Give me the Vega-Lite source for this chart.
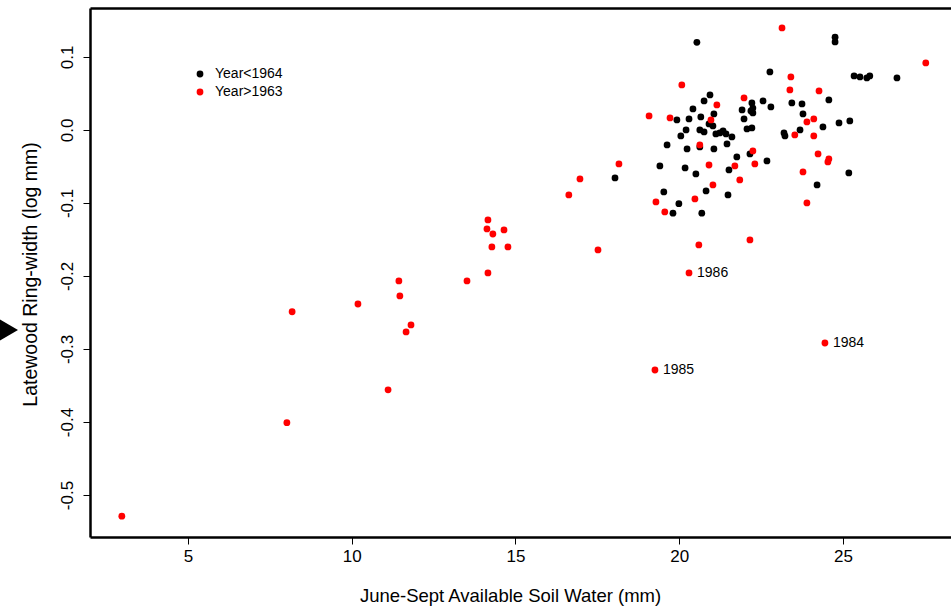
{
  "$schema": "https://vega.github.io/schema/vega-lite/v6.json",
  "width": 861,
  "height": 529,
  "autosize": {"type": "none"},
  "padding": {"left": 90, "top": 8, "right": 0, "bottom": 69},
  "background": "white",
  "config": {
    "view": {"stroke": null},
    "font": "Liberation Sans",
    "locale": {"number": {"decimal": ".", "thousands": ",", "grouping": [3], "currency": ["$", ""], "minus": "-"}}
  },
  "datasets": {
    "pts": [
      {"x": 20.54, "y": 0.120, "g": "Year<1964"},
      {"x": 24.76, "y": 0.127, "g": "Year<1964"},
      {"x": 24.76, "y": 0.1205, "g": "Year<1964"},
      {"x": 22.77, "y": 0.0795, "g": "Year<1964"},
      {"x": 25.34, "y": 0.074, "g": "Year<1964"},
      {"x": 25.52, "y": 0.0726, "g": "Year<1964"},
      {"x": 25.73, "y": 0.0712, "g": "Year<1964"},
      {"x": 25.82, "y": 0.074, "g": "Year<1964"},
      {"x": 26.65, "y": 0.0712, "g": "Year<1964"},
      {"x": 20.94, "y": 0.048, "g": "Year<1964"},
      {"x": 20.76, "y": 0.0397, "g": "Year<1964"},
      {"x": 20.42, "y": 0.0288, "g": "Year<1964"},
      {"x": 21.06, "y": 0.0219, "g": "Year<1964"},
      {"x": 19.93, "y": 0.0137, "g": "Year<1964"},
      {"x": 20.30, "y": 0.0151, "g": "Year<1964"},
      {"x": 20.66, "y": 0.0178, "g": "Year<1964"},
      {"x": 20.91, "y": 0.0082, "g": "Year<1964"},
      {"x": 21.03, "y": 0.0055, "g": "Year<1964"},
      {"x": 20.21, "y": 0.0, "g": "Year<1964"},
      {"x": 20.05, "y": -0.0082, "g": "Year<1964"},
      {"x": 20.63, "y": 0.0, "g": "Year<1964"},
      {"x": 20.76, "y": -0.0027, "g": "Year<1964"},
      {"x": 21.12, "y": -0.0055, "g": "Year<1964"},
      {"x": 21.24, "y": -0.0041, "g": "Year<1964"},
      {"x": 21.34, "y": -0.0014, "g": "Year<1964"},
      {"x": 21.43, "y": -0.0055, "g": "Year<1964"},
      {"x": 21.61, "y": -0.0096, "g": "Year<1964"},
      {"x": 21.46, "y": -0.0192, "g": "Year<1964"},
      {"x": 21.06, "y": -0.026, "g": "Year<1964"},
      {"x": 20.24, "y": -0.026, "g": "Year<1964"},
      {"x": 19.63, "y": -0.0205, "g": "Year<1964"},
      {"x": 20.63, "y": -0.0233, "g": "Year<1964"},
      {"x": 22.22, "y": 0.037, "g": "Year<1964"},
      {"x": 22.25, "y": 0.030, "g": "Year<1964"},
      {"x": 22.25, "y": 0.0233, "g": "Year<1964"},
      {"x": 22.19, "y": 0.026, "g": "Year<1964"},
      {"x": 21.92, "y": 0.0274, "g": "Year<1964"},
      {"x": 21.98, "y": 0.0151, "g": "Year<1964"},
      {"x": 22.56, "y": 0.0397, "g": "Year<1964"},
      {"x": 22.80, "y": 0.0315, "g": "Year<1964"},
      {"x": 22.07, "y": 0.0014, "g": "Year<1964"},
      {"x": 22.22, "y": 0.0027, "g": "Year<1964"},
      {"x": 23.44, "y": 0.037, "g": "Year<1964"},
      {"x": 23.75, "y": 0.0356, "g": "Year<1964"},
      {"x": 23.78, "y": 0.0219, "g": "Year<1964"},
      {"x": 24.57, "y": 0.0411, "g": "Year<1964"},
      {"x": 24.39, "y": 0.0041, "g": "Year<1964"},
      {"x": 24.88, "y": 0.0096, "g": "Year<1964"},
      {"x": 25.21, "y": 0.0123, "g": "Year<1964"},
      {"x": 23.20, "y": -0.0041, "g": "Year<1964"},
      {"x": 23.23, "y": -0.0082, "g": "Year<1964"},
      {"x": 23.69, "y": 0.0, "g": "Year<1964"},
      {"x": 21.76, "y": -0.037, "g": "Year<1964"},
      {"x": 22.16, "y": -0.0329, "g": "Year<1964"},
      {"x": 22.68, "y": -0.0425, "g": "Year<1964"},
      {"x": 21.52, "y": -0.0548, "g": "Year<1964"},
      {"x": 20.51, "y": -0.0603, "g": "Year<1964"},
      {"x": 20.18, "y": -0.052, "g": "Year<1964"},
      {"x": 19.41, "y": -0.0493, "g": "Year<1964"},
      {"x": 18.04, "y": -0.0658, "g": "Year<1964"},
      {"x": 20.82, "y": -0.0836, "g": "Year<1964"},
      {"x": 21.49, "y": -0.089, "g": "Year<1964"},
      {"x": 19.53, "y": -0.0849, "g": "Year<1964"},
      {"x": 24.21, "y": -0.0753, "g": "Year<1964"},
      {"x": 25.18, "y": -0.0589, "g": "Year<1964"},
      {"x": 19.99, "y": -0.101, "g": "Year<1964"},
      {"x": 19.81, "y": -0.114, "g": "Year<1964"},
      {"x": 20.69, "y": -0.114, "g": "Year<1964"},
      {"x": 23.14, "y": 0.1397, "g": "Year>1963"},
      {"x": 27.53, "y": 0.0918, "g": "Year>1963"},
      {"x": 20.08, "y": 0.0616, "g": "Year>1963"},
      {"x": 23.41, "y": 0.0726, "g": "Year>1963"},
      {"x": 23.38, "y": 0.0548, "g": "Year>1963"},
      {"x": 24.27, "y": 0.0534, "g": "Year>1963"},
      {"x": 21.98, "y": 0.0438, "g": "Year>1963"},
      {"x": 21.15, "y": 0.0342, "g": "Year>1963"},
      {"x": 19.08, "y": 0.0192, "g": "Year>1963"},
      {"x": 19.72, "y": 0.0164, "g": "Year>1963"},
      {"x": 20.97, "y": 0.0137, "g": "Year>1963"},
      {"x": 24.11, "y": 0.0151, "g": "Year>1963"},
      {"x": 23.90, "y": 0.011, "g": "Year>1963"},
      {"x": 23.53, "y": -0.0068, "g": "Year>1963"},
      {"x": 24.11, "y": -0.0082, "g": "Year>1963"},
      {"x": 20.63, "y": -0.0205, "g": "Year>1963"},
      {"x": 22.25, "y": -0.0288, "g": "Year>1963"},
      {"x": 24.24, "y": -0.0329, "g": "Year>1963"},
      {"x": 24.57, "y": -0.0397, "g": "Year>1963"},
      {"x": 24.54, "y": -0.0438, "g": "Year>1963"},
      {"x": 20.91, "y": -0.048, "g": "Year>1963"},
      {"x": 21.70, "y": -0.0493, "g": "Year>1963"},
      {"x": 22.31, "y": -0.0466, "g": "Year>1963"},
      {"x": 18.16, "y": -0.0466, "g": "Year>1963"},
      {"x": 16.97, "y": -0.0671, "g": "Year>1963"},
      {"x": 23.78, "y": -0.0575, "g": "Year>1963"},
      {"x": 21.85, "y": -0.0685, "g": "Year>1963"},
      {"x": 21.03, "y": -0.0753, "g": "Year>1963"},
      {"x": 20.48, "y": -0.0945, "g": "Year>1963"},
      {"x": 19.29, "y": -0.0986, "g": "Year>1963"},
      {"x": 19.56, "y": -0.1123, "g": "Year>1963"},
      {"x": 23.90, "y": -0.100, "g": "Year>1963"},
      {"x": 22.16, "y": -0.1507, "g": "Year>1963"},
      {"x": 20.60, "y": -0.1575, "g": "Year>1963"},
      {"x": 17.52, "y": -0.1644, "g": "Year>1963"},
      {"x": 20.30, "y": -0.1959, "g": "Year>1963", "yr": "1986"},
      {"x": 24.45, "y": -0.2918, "g": "Year>1963", "yr": "1984"},
      {"x": 19.26, "y": -0.3288, "g": "Year>1963", "yr": "1985"},
      {"x": 16.63, "y": -0.089, "g": "Year>1963"},
      {"x": 14.16, "y": -0.1233, "g": "Year>1963"},
      {"x": 14.13, "y": -0.1356, "g": "Year>1963"},
      {"x": 14.31, "y": -0.1425, "g": "Year>1963"},
      {"x": 14.65, "y": -0.137, "g": "Year>1963"},
      {"x": 14.28, "y": -0.1603, "g": "Year>1963"},
      {"x": 14.77, "y": -0.1603, "g": "Year>1963"},
      {"x": 14.16, "y": -0.1959, "g": "Year>1963"},
      {"x": 13.52, "y": -0.2068, "g": "Year>1963"},
      {"x": 11.44, "y": -0.2068, "g": "Year>1963"},
      {"x": 11.47, "y": -0.2274, "g": "Year>1963"},
      {"x": 10.19, "y": -0.2384, "g": "Year>1963"},
      {"x": 11.81, "y": -0.267, "g": "Year>1963"},
      {"x": 11.66, "y": -0.2767, "g": "Year>1963"},
      {"x": 11.11, "y": -0.356, "g": "Year>1963"},
      {"x": 8.18, "y": -0.249, "g": "Year>1963"},
      {"x": 8.02, "y": -0.401, "g": "Year>1963"},
      {"x": 2.98, "y": -0.529, "g": "Year>1963"}
    ],
    "marker": [
      {"x": -0.48, "y": -0.274}
    ]
  },
  "layer": [
    {
      "data": {"name": "pts"},
      "mark": {"type": "circle", "size": 46, "opacity": 1},
      "encoding": {
        "x": {
          "field": "x", "type": "quantitative",
          "scale": {"domain": [2.008, 28.3], "nice": false, "zero": false},
          "axis": {
            "orient": "bottom", "values": [5, 10, 15, 20, 25], "grid": false,
            "domainColor": "black", "domainWidth": 2.5,
            "tickColor": "black", "tickWidth": 1, "tickSize": 7,
            "labelFontSize": 17, "labelColor": "black", "labelPadding": 4, "labelFont": "Liberation Sans",
            "title": "June-Sept Available Soil Water (mm)",
            "titleFont": "Liberation Sans", "titleFontSize": 18.5, "titleFontWeight": "normal", "titleColor": "black",
            "titleX": 420, "titleY": 58, "titleAlign": "center", "titleBaseline": "middle"
          }
        },
        "y": {
          "field": "y", "type": "quantitative",
          "scale": {"domain": [-0.5575, 0.167], "nice": false, "zero": false},
          "axis": {
            "orient": "left", "values": [-0.5, -0.4, -0.3, -0.2, -0.1, 0, 0.1], "format": ".1f", "grid": false,
            "domainColor": "black", "domainWidth": 2.5,
            "tickColor": "black", "tickWidth": 1, "tickSize": 7,
            "labelFontSize": 17, "labelColor": "black", "labelFont": "Liberation Sans",
            "labelAngle": 270, "labelAlign": "center", "labelBaseline": "alphabetic", "labelPadding": 11,
            "title": "Latewood Ring-width (log mm)",
            "titleFont": "Liberation Sans", "titleFontSize": 19.5, "titleFontWeight": "normal", "titleColor": "black",
            "titleAngle": 270, "titleX": -60, "titleY": 266, "titleAlign": "center", "titleBaseline": "middle"
          }
        },
        "color": {
          "field": "g", "type": "nominal",
          "scale": {"domain": ["Year<1964", "Year>1963"], "range": ["#000000", "#ff0000"]},
          "legend": {
            "orient": "none", "legendX": 103, "legendY": 59, "title": null,
            "labelFontSize": 14, "labelFont": "Liberation Sans", "labelColor": "black",
            "symbolSize": 46, "symbolType": "circle", "symbolStrokeWidth": 0,
            "labelOffset": 8, "rowPadding": 4, "padding": 0
          }
        }
      }
    },
    {
      "data": {"name": "pts"},
      "transform": [{"filter": "datum.yr != null"}],
      "mark": {"type": "text", "align": "left", "baseline": "middle", "dx": 8, "fontSize": 14, "font": "Liberation Sans", "color": "black"},
      "encoding": {
        "x": {
          "field": "x", "type": "quantitative",
          "axis": {"orient": "top", "labels": false, "ticks": false, "domain": true, "grid": false, "title": null, "domainColor": "black", "domainWidth": 2.5}
        },
        "y": {"field": "y", "type": "quantitative", "axis": null},
        "text": {"field": "yr"}
      }
    },
    {
      "data": {"name": "marker"},
      "mark": {"type": "point", "shape": "triangle-right", "filled": true, "size": 480, "clip": false, "color": "black", "opacity": 1},
      "encoding": {
        "x": {"field": "x", "type": "quantitative", "axis": null},
        "y": {"field": "y", "type": "quantitative", "axis": null}
      }
    }
  ],
  "resolve": {"axis": {"x": "independent", "y": "independent"}}
}
